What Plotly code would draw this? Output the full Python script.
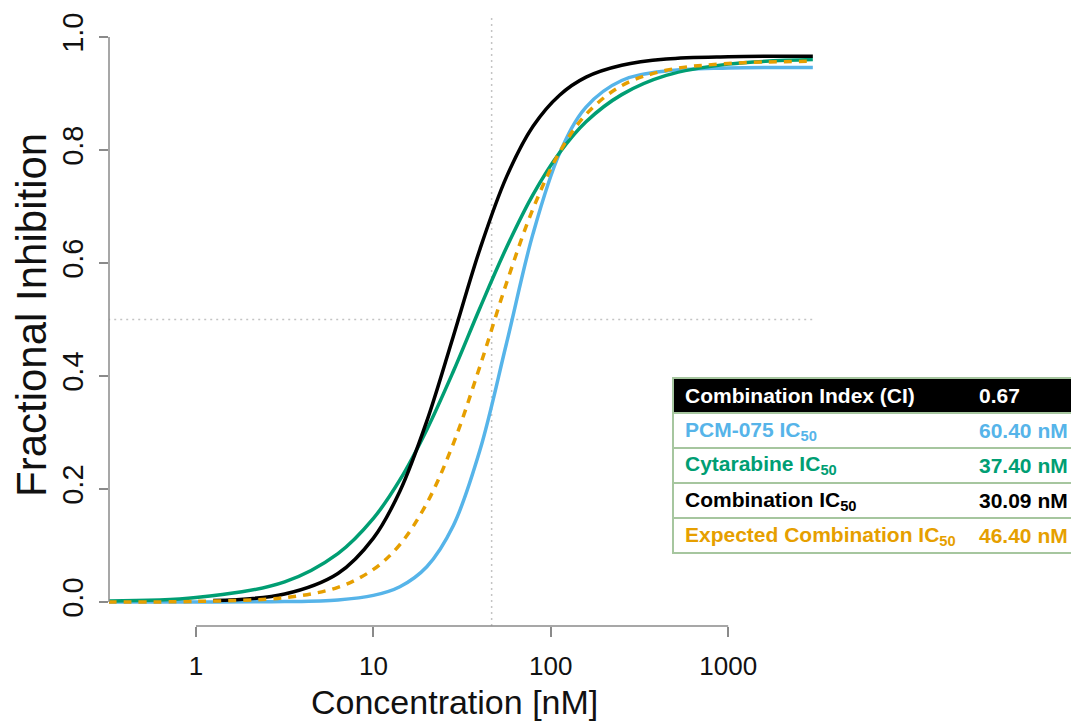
import math
import plotly.graph_objects as go

# ---------------- data ----------------
conc = [0.32, 1, 3.16, 6.31, 10, 14.1, 20, 28.2, 39.8, 56.2, 79.4, 112, 158, 251, 447, 1000, 3000]
pcm075 = [0.0, 0.00004, 0.0007, 0.0037, 0.0117, 0.0271, 0.0625, 0.135, 0.268, 0.457, 0.652, 0.794, 0.876, 0.923, 0.940, 0.945, 0.946]
cytarabine = [0.0017, 0.0078, 0.0356, 0.0857, 0.148, 0.216, 0.305, 0.408, 0.520, 0.627, 0.721, 0.795, 0.850, 0.898, 0.932, 0.952, 0.960]
expected = [0.0001, 0.001, 0.0077, 0.026, 0.0577, 0.1017, 0.1747, 0.280, 0.4165, 0.564, 0.696, 0.796, 0.863, 0.914, 0.941, 0.953, 0.957]
conc_comb = [1.25, 3.16, 6.31, 10, 14.1, 20, 28.2, 39.8, 56.2, 79.4, 112, 158, 251, 447, 1000, 3000]
combination = [0.0025, 0.0141, 0.0505, 0.113, 0.196, 0.320, 0.470, 0.624, 0.752, 0.842, 0.897, 0.929, 0.950, 0.961, 0.965, 0.966]

expected_ic50 = 46.4
half_inhibition = 0.5

x_tick_vals = [1, 10, 100, 1000]
x_tick_text = ["1", "10", "100", "1000"]
y_tick_vals = [0, 0.2, 0.4, 0.6, 0.8, 1.0]
y_tick_text = ["0.0", "0.2", "0.4", "0.6", "0.8", "1.0"]

table_labels = ["Combination Index (CI)", "PCM-075 IC<sub>50</sub>", "Cytarabine IC<sub>50</sub>",
                "Combination IC<sub>50</sub>", "Expected Combination IC<sub>50</sub>"]
table_values = ["0.67", "60.40 nM", "37.40 nM", "30.09 nM", "46.40 nM"]

# ---------------- styles ----------------
BLACK = "#000000"
BLUE = "#56B4E9"
GREEN = "#009E73"
ORANGE = "#E69F00"
AXIS_GREY = "#8a8a8a"
DOT_GREY = "#c4c4c4"
BORDER = "#a6c69f"
FONT = "Liberation Sans, Arial, Helvetica, sans-serif"
table_text_colors = ["#ffffff", BLUE, GREEN, BLACK, ORANGE]

W, H = 1071, 728
L, R, T, B = 109, 813, 17, 626
X_RANGE = [-0.4904, 3.478]
Y_RANGE = [-0.0425, 1.0354]


def px_x(px):
    return (px - L) / (R - L)


def px_y(py):
    return (B - py) / (B - T)


def log_x_paper(v):
    return (math.log10(v) - X_RANGE[0]) / (X_RANGE[1] - X_RANGE[0])


fig = go.Figure()

# reference dotted lines
fig.add_trace(go.Scatter(x=[conc[0], conc[-1]], y=[half_inhibition, half_inhibition], mode="lines",
                         line=dict(color=DOT_GREY, width=1.5, dash="2px,4px"), hoverinfo="skip"))
fig.add_trace(go.Scatter(x=[expected_ic50, expected_ic50], y=[Y_RANGE[0], Y_RANGE[1]], mode="lines",
                         line=dict(color=DOT_GREY, width=1.5, dash="2px,4px"), hoverinfo="skip"))

fig.add_trace(go.Scatter(x=conc, y=pcm075, mode="lines", name="PCM-075",
                         line=dict(color=BLUE, width=3.5, shape="spline")))
fig.add_trace(go.Scatter(x=conc, y=cytarabine, mode="lines", name="Cytarabine",
                         line=dict(color=GREEN, width=3.5, shape="spline")))
fig.add_trace(go.Scatter(x=conc_comb, y=combination, mode="lines", name="Combination",
                         line=dict(color=BLACK, width=3.5, shape="spline")))
fig.add_trace(go.Scatter(x=conc, y=expected, mode="lines", name="Expected Combination",
                         line=dict(color=ORANGE, width=3.5, shape="spline", dash="8px,7px")))

shapes = []
# axis lines (R style: only between extreme ticks)
shapes.append(dict(type="line", xref="paper", yref="paper",
                   x0=log_x_paper(x_tick_vals[0]), x1=log_x_paper(x_tick_vals[-1]), y0=0, y1=0,
                   line=dict(color=AXIS_GREY, width=1.5)))
shapes.append(dict(type="line", xref="paper", yref="y", x0=0, x1=0,
                   y0=y_tick_vals[0], y1=y_tick_vals[-1], line=dict(color=AXIS_GREY, width=1.5)))

# table
row_h = 35
top = 378
tbl_left = 673
annotations = []
for i, (lab, val) in enumerate(zip(table_labels, table_values)):
    y0 = top + i * row_h
    y1 = y0 + row_h
    shapes.append(dict(type="rect", xref="paper", yref="paper",
                       x0=px_x(tbl_left), x1=px_x(1080), y0=px_y(y1), y1=px_y(y0),
                       fillcolor=BLACK if i == 0 else "#ffffff",
                       line=dict(color=BORDER, width=2), layer="above"))
    yc = px_y((y0 + y1) / 2)
    annotations.append(dict(xref="paper", yref="paper", x=px_x(683), y=yc, xanchor="left",
                            yanchor="middle", text="<b>%s</b>" % lab, showarrow=False,
                            font=dict(family=FONT, size=21, color=table_text_colors[i])))
    annotations.append(dict(xref="paper", yref="paper", x=px_x(977), y=yc, xanchor="left",
                            yanchor="middle", text="<b>%s</b>" % val, showarrow=False,
                            font=dict(family=FONT, size=21, color=table_text_colors[i])))

# axis titles
annotations.append(dict(xref="paper", yref="paper", x=px_x(454), y=px_y(702), xanchor="center",
                        yanchor="middle", text="Concentration [nM]", showarrow=False,
                        font=dict(family=FONT, size=34, color="#111111")))
annotations.append(dict(xref="paper", yref="paper", x=px_x(31), y=px_y(315), xanchor="center",
                        yanchor="middle", text="Fractional Inhibition", showarrow=False, textangle=-90,
                        font=dict(family=FONT, size=42, color="#111111")))

fig.update_layout(
    width=W, height=H,
    margin=dict(l=L, r=W - R, t=T, b=H - B, pad=0),
    paper_bgcolor="#ffffff", plot_bgcolor="#ffffff",
    showlegend=False,
    shapes=shapes, annotations=annotations,
    xaxis=dict(type="log", range=X_RANGE, tickvals=x_tick_vals, ticktext=x_tick_text,
               ticks="outside", ticklen=10, tickwidth=1.5, tickcolor=AXIS_GREY,
               ticklabelstandoff=7,
               showgrid=False, zeroline=False, showline=False,
               tickfont=dict(family=FONT, size=26, color="#111111")),
    yaxis=dict(range=Y_RANGE, tickvals=y_tick_vals, ticktext=y_tick_text,
               ticks="outside", ticklen=9, tickwidth=1.5, tickcolor=AXIS_GREY, tickangle=-90,
               ticklabelstandoff=4,
               showgrid=False, zeroline=False, showline=False,
               tickfont=dict(family=FONT, size=29, color="#111111")),
)

fig.write_html("out.html", config={"displayModeBar": False},
               post_script="document.body.style.margin='0px';")
